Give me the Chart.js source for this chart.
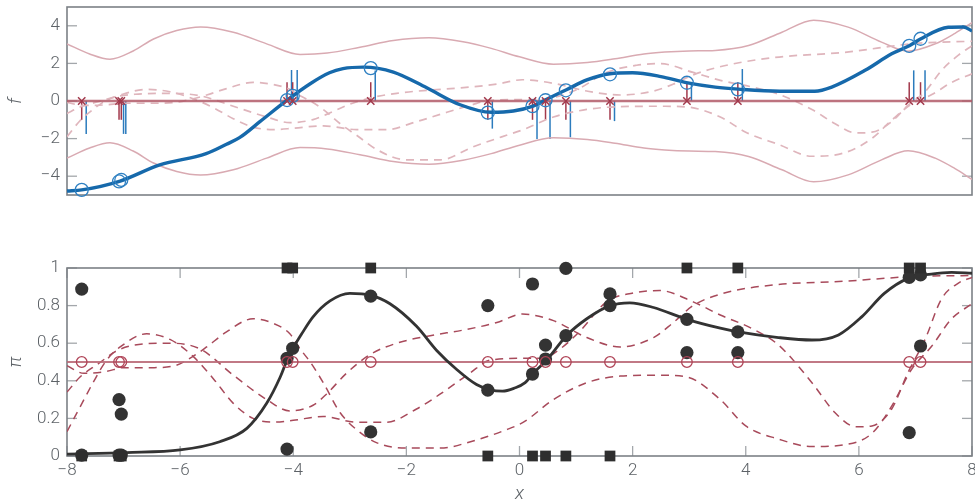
<!DOCTYPE html>
<html><head><meta charset="utf-8">
<script src="https://cdn.jsdelivr.net/npm/chart.js@4.4.1/dist/chart.umd.min.js"></script>
<style>
html,body{margin:0;padding:0;background:#fff;}
#wrap{position:relative;width:975px;height:503px;overflow:hidden;}
#c1{position:absolute;left:0;top:0;width:975px;height:215px;}
#c2{position:absolute;left:0;top:245px;width:975px;height:258px;}
</style></head><body>
<div id="wrap">
<canvas id="c1" width="975" height="215"></canvas>
<canvas id="c2" width="975" height="258"></canvas>
</div>
<script>
// ---------- axes ----------
const X_RANGE = [-8, 8];
const xTicks = [-8, -6, -4, -2, 0, 2, 4, 6, 8];
const F_RANGE = [-5, 5];
const fTicks = [-4, -2, 0, 2, 4];
const PI_RANGE = [0, 1];
const piTicks = [0, 0.2, 0.4, 0.6, 0.8, 1];
const priorF = 0;
const priorPi = 0.5;

// ---------- observations ----------
const obsX      = [-7.74, -7.08, -7.04, -4.11, -4.01, -2.63, -0.56, 0.23, 0.46, 0.82, 1.6, 2.96, 3.86, 6.89, 7.09];
const obsLabel  = [0, 0, 0, 1, 1, 1, 0, 0, 0, 0, 0, 1, 1, 1, 1];
const fAtObs    = [-4.73, -4.28, -4.2, 0.05, 0.27, 1.75, -0.62, -0.27, 0.04, 0.57, 1.42, 0.97, 0.62, 2.93, 3.31];
const redStem   = [-1, -1, -1, 1, 1, 1, -1, -1, -1, -1, -1, 1, 1, 1, 1];
const blueStem  = [-1.75, -1.75, -1.75, 1.65, 1.65, 1.62, -1.47, -2.02, -2.02, -1.93, -1.07, 0.99, 1.7, 1.63, 1.63];
const piAtObs   = [0.005, 0.005, 0.005, 0.52, 0.573, 0.85, 0.35, 0.436, 0.516, 0.64, 0.80, 0.727, 0.66, 0.95, 0.963];
const piOther   = [0.888, 0.30, 0.223, 0.037, null, 0.128, 0.80, 0.915, 0.59, 0.998, 0.862, 0.55, 0.55, 0.124, 0.585];

// ---------- latent mean f ----------
const meanX = [-8, -7.74, -7.06, -6.36, -5.54, -5.18, -4.95, -4.59, -4.12, -3.7, -3.36, -3.12, -2.76, -2.23, -1.64, -1.05, -0.5, -0.11, 0.24, 0.48, 0.83, 1.19, 1.6, 2.0, 2.5, 2.95, 3.46, 3.87, 4.6, 5.22, 5.52, 6.11, 6.58, 6.9, 7.08, 7.58, 7.85, 8];
const meanF = [-4.79, -4.73, -4.26, -3.4, -2.8, -2.3, -1.95, -1.1, 0.02, 0.92, 1.5, 1.72, 1.8, 1.54, 0.7, -0.2, -0.6, -0.53, -0.27, 0.09, 0.6, 1.12, 1.45, 1.5, 1.3, 0.98, 0.74, 0.63, 0.52, 0.52, 0.74, 1.63, 2.51, 2.95, 3.28, 3.92, 3.94, 3.72];

// ---------- prior band ----------
const boundX     = [-8, -7.6, -7.24, -6.83, -6.47, -6.06, -5.64, -5.06, -4.47, -3.88, -3.4, -2.82, -2.23, -1.6, -1.0, -0.5, 0.0, 0.6, 1.2, 1.69, 2.2, 2.57, 3.0, 3.46, 4.05, 4.64, 5.2, 5.81, 6.4, 6.87, 7.35, 7.7, 8];
const boundUpper = [3.04, 2.5, 2.22, 2.66, 3.3, 3.75, 3.94, 3.66, 3.04, 2.48, 2.55, 2.86, 3.22, 3.36, 3.15, 2.8, 2.35, 1.96, 2.05, 2.25, 2.5, 2.6, 2.66, 2.69, 2.95, 3.66, 4.3, 3.93, 3.13, 2.65, 3.04, 3.6, 4.17];
const boundLower = [-3.04, -2.5, -2.22, -2.66, -3.3, -3.75, -3.94, -3.66, -3.04, -2.48, -2.55, -2.86, -3.22, -3.36, -3.15, -2.8, -2.35, -1.96, -2.05, -2.25, -2.5, -2.6, -2.66, -2.69, -2.95, -3.66, -4.3, -3.93, -3.13, -2.65, -3.04, -3.6, -4.17];

// ---------- prior samples ----------
const sampleAX  = [-8, -7.77, -7.54, -7.3, -7.06, -6.59, -6.18, -5.77, -5.41, -5.06, -4.71, -4.35, -4.0, -3.47, -2.88, -2.35, -1.82, -1.35, -0.88, -0.52, 0.07, 0.4, 0.72, 1.07, 1.54, 2.07, 2.48, 3.07, 3.55, 4.13, 4.58, 5.17, 5.58, 5.95, 6.23, 6.58, 6.87, 7.17, 7.46, 7.76, 8];
const sampleAF  = [-1.90, -1.05, -0.45, 0.04, 0.32, 0.62, 0.49, 0.12, -0.36, -0.94, -1.39, -1.52, -1.45, -1.32, -1.52, -1.52, -1.10, -0.66, -0.24, 0.04, 0.08, 0.08, 0.28, 0.69, 1.52, 1.90, 1.99, 1.52, 1.10, 0.73, 0.36, -0.45, -1.21, -1.70, -1.66, -1.10, -0.22, 0.49, 1.62, 2.44, 2.94];
const sampleAPi = [0.13, 0.26, 0.39, 0.51, 0.58, 0.65, 0.62, 0.53, 0.41, 0.28, 0.2, 0.18, 0.19, 0.21, 0.18, 0.18, 0.25, 0.34, 0.44, 0.51, 0.52, 0.52, 0.57, 0.665, 0.82, 0.87, 0.88, 0.82, 0.75, 0.675, 0.59, 0.39, 0.23, 0.155, 0.16, 0.25, 0.445, 0.62, 0.835, 0.92, 0.95];

const sampleBX  = [-8, -7.77, -7.45, -7.12, -6.8, -6.2, -5.65, -5.06, -4.47, -4.06, -3.65, -3.41, -3.06, -2.64, -2.17, -1.58, -0.99, -0.4, 0.05, 0.6, 1.19, 1.78, 2.37, 2.72, 3.07, 3.6, 4.49, 5.75, 7.0, 8];
const sampleBF  = [-0.66, -0.32, -0.04, 0.24, 0.36, 0.41, 0.28, -0.28, -0.85, -1.15, -0.99, -0.71, -0.24, 0.16, 0.41, 0.58, 0.71, 0.90, 1.13, 0.94, 0.53, 0.32, 0.53, 0.90, 1.39, 1.86, 2.31, 2.59, 3.06, 3.18];
const sampleBPi = [0.34, 0.42, 0.49, 0.56, 0.59, 0.6, 0.57, 0.43, 0.30, 0.24, 0.27, 0.33, 0.44, 0.54, 0.60, 0.64, 0.67, 0.71, 0.755, 0.72, 0.63, 0.58, 0.63, 0.71, 0.80, 0.865, 0.91, 0.93, 0.955, 0.96];

const sampleCX  = [-8, -7.7, -7.3, -7.0, -6.5, -6.1, -5.77, -5.53, -5.18, -4.71, -4.35, -4.06, -3.88, -3.7, -3.47, -3.17, -2.88, -2.52, -2.0, -1.4, -0.82, -0.23, 0.07, 0.6, 1.19, 1.78, 2.48, 2.96, 3.55, 4.0, 4.58, 5.17, 5.75, 6.23, 6.58, 6.93, 7.29, 7.64, 8];
const sampleCF  = [-0.08, -0.24, -0.20, -0.12, -0.12, -0.08, 0.12, 0.32, 0.66, 0.99, 0.87, 0.62, 0.28, 0.0, -0.45, -1.21, -1.82, -2.59, -3.13, -3.13, -2.44, -1.82, -1.52, -0.85, -0.45, -0.30, -0.28, -0.32, -0.85, -1.66, -2.31, -2.94, -2.75, -1.99, -1.02, -0.16, 0.34, 0.99, 1.45];
const sampleCPi = [0.48, 0.44, 0.45, 0.47, 0.47, 0.48, 0.53, 0.58, 0.66, 0.73, 0.705, 0.65, 0.57, 0.5, 0.39, 0.23, 0.14, 0.07, 0.042, 0.042, 0.08, 0.14, 0.18, 0.30, 0.39, 0.425, 0.43, 0.42, 0.30, 0.16, 0.09, 0.05, 0.06, 0.12, 0.265, 0.46, 0.585, 0.73, 0.81];

// ---------- predictive pi ----------
const piMeanX = [-8, -6.95, -6.0, -5.3, -4.82, -4.47, -4.23, -4.11, -4.0, -3.85, -3.65, -3.35, -3.0, -2.64, -2.29, -1.82, -1.46, -1.11, -0.76, -0.52, -0.3, -0.1, 0.1, 0.24, 0.48, 0.83, 1.19, 1.6, 1.95, 2.37, 2.96, 3.55, 3.87, 4.58, 5.17, 5.64, 6.05, 6.45, 6.87, 7.28, 7.64, 8];
const piMean  = [0.01, 0.018, 0.032, 0.076, 0.147, 0.28, 0.42, 0.51, 0.575, 0.65, 0.74, 0.825, 0.865, 0.856, 0.81, 0.69, 0.56, 0.46, 0.38, 0.352, 0.345, 0.36, 0.39, 0.44, 0.51, 0.64, 0.73, 0.80, 0.815, 0.79, 0.727, 0.68, 0.66, 0.63, 0.617, 0.644, 0.74, 0.865, 0.945, 0.968, 0.977, 0.972];

// ---------- helpers ----------
const pts = (xs, ys) => xs.map((x, i) => ({x: x, y: ys[i]})).filter(p => p.y !== null && p.y !== undefined);
const constLine = (v) => X_RANGE.map(x => ({x: x, y: v}));
const fmt = v => (v < 0 ? '\u2212' + Math.abs(v) : String(v));
const FONT = 'Roboto, "Open Sans", "DejaVu Sans", sans-serif';
const tickFont = {family: FONT, size: 17, weight: '300'};
const titleFont = {family: FONT, size: 19, style: 'italic', weight: '300', lineHeight: 0.9};
const TXT = '#5d6267';

const frameTicks = {
  id: 'frameTicks',
  beforeDatasetsDraw(chart, args, o) {
    const {ctx, chartArea: a, scales} = chart;
    ctx.save();
    const seg = (x1, y1, x2, y2) => { ctx.beginPath(); ctx.moveTo(x1, y1); ctx.lineTo(x2, y2); ctx.stroke(); };
    ctx.strokeStyle = '#a3a7ab'; ctx.lineWidth = 1.3;
    const L = 10;
    (o.yTicks || []).forEach(v => {
      const y = scales.y.getPixelForValue(v);
      seg(a.left, y, a.left + L, y); seg(a.right - L, y, a.right, y);
    });
    (o.xTicks || []).forEach(v => {
      const x = scales.x.getPixelForValue(v);
      seg(x, a.top, x, a.top + L); seg(x, a.bottom - L, x, a.bottom);
    });
    ctx.strokeStyle = '#7c8186'; ctx.lineWidth = 1.6;
    ctx.strokeRect(a.left, a.top, a.right - a.left, a.bottom - a.top);
    if (o.stems) {
      const s = o.stems;
      ctx.lineWidth = 1.5;
      s.x.forEach((xv, i) => {
        const px = scales.x.getPixelForValue(xv);
        const y0 = scales.y.getPixelForValue(s.base);
        ctx.strokeStyle = '#2b7bbd';
        seg(px + s.offset, y0, px + s.offset, scales.y.getPixelForValue(s.blue[i]));
        ctx.strokeStyle = '#a2394c';
        seg(px, y0, px, scales.y.getPixelForValue(s.red[i]));
      });
    }
    ctx.restore();
  }
};
Chart.register(frameTicks);

const lineDS = (data, color, width, dash) => ({
  data: data, showLine: true, borderColor: color, backgroundColor: color, borderWidth: width,
  borderDash: dash || [], pointRadius: 0, pointHoverRadius: 0, cubicInterpolationMode: 'monotone', fill: false
});

const yAxis = (range, ticks, title, titlePad) => ({
  type: 'linear', min: range[0], max: range[1],
  afterBuildTicks: s => { s.ticks = ticks.map(v => ({value: v})); },
  afterFit: s => { s.width = 67; s.paddingTop = 0; s.paddingBottom = 0; },
  grid: {display: false, drawTicks: false}, border: {display: false},
  ticks: {padding: 7, font: tickFont, color: TXT, callback: v => fmt(v)},
  title: {display: true, text: title, font: titleFont, color: TXT, padding: {top: titlePad, bottom: 0}}
});

// ---------- top chart: latent f ----------
new Chart(document.getElementById('c1'), {
  type: 'scatter',
  data: {datasets: [
    {data: pts(obsX, obsX.map(() => priorF)), pointStyle: 'crossRot', pointRadius: 5.2, pointBorderWidth: 1.5,
     borderColor: '#a2394c', backgroundColor: 'rgba(0,0,0,0)', clip: false},
    {data: pts(obsX, fAtObs), pointStyle: 'circle', pointRadius: 6.5, pointBorderWidth: 1.3,
     borderColor: '#2f80c2', backgroundColor: 'rgba(0,0,0,0)', clip: false},
    lineDS(pts(meanX, meanF), '#1669ab', 3.4),
    lineDS(constLine(priorF), 'rgba(178,90,104,0.85)', 2.3),
    lineDS(pts(sampleAX, sampleAF), '#dfb5bc', 1.7, [8, 6]),
    lineDS(pts(sampleBX, sampleBF), '#dfb5bc', 1.7, [8, 6]),
    lineDS(pts(sampleCX, sampleCF), '#dfb5bc', 1.7, [8, 6]),
    lineDS(pts(boundX, boundUpper), '#d9aab2', 1.5),
    lineDS(pts(boundX, boundLower), '#d9aab2', 1.5)
  ]},
  options: {
    responsive: false, animation: false, events: [],
    layout: {autoPadding: false, padding: {left: 0, right: 3, top: 7, bottom: 20}},
    plugins: {legend: {display: false}, tooltip: {enabled: false},
      frameTicks: {yTicks: fTicks, stems: {x: obsX, red: redStem, blue: blueStem, base: priorF, offset: 4.5}}},
    scales: {
      x: {type: 'linear', min: X_RANGE[0], max: X_RANGE[1], display: false},
      y: yAxis(F_RANGE, fTicks, 'f', 8)
    }
  }
});

// ---------- bottom chart: class probability ----------
new Chart(document.getElementById('c2'), {
  type: 'scatter',
  data: {datasets: [
    {data: pts(obsX, obsX.map(() => priorPi)), pointStyle: 'circle', pointRadius: 5.3, pointBorderWidth: 1.3,
     borderColor: '#b04457', backgroundColor: 'rgba(0,0,0,0)', clip: false},
    {data: pts(obsX, obsLabel), pointStyle: 'rect', pointRadius: 7.6, pointBorderWidth: 0,
     borderColor: '#2e2e2e', backgroundColor: '#2e2e2e', clip: false},
    {data: pts(obsX, piAtObs), pointStyle: 'circle', pointRadius: 6.6, pointBorderWidth: 0,
     borderColor: '#333', backgroundColor: '#333', clip: false},
    {data: pts(obsX, piOther), pointStyle: 'circle', pointRadius: 6.6, pointBorderWidth: 0,
     borderColor: '#333', backgroundColor: '#333', clip: false},
    lineDS(pts(piMeanX, piMean), '#333', 2.8),
    lineDS(constLine(priorPi), 'rgba(186,106,120,0.9)', 2.2),
    lineDS(pts(sampleAX, sampleAPi), '#a84a5b', 1.5, [8, 6]),
    lineDS(pts(sampleBX, sampleBPi), '#a84a5b', 1.5, [8, 6]),
    lineDS(pts(sampleCX, sampleCPi), '#a84a5b', 1.5, [8, 6])
  ]},
  options: {
    responsive: false, animation: false, events: [],
    layout: {autoPadding: false, padding: {left: 0, right: 3, top: 23, bottom: 0}},
    plugins: {legend: {display: false}, tooltip: {enabled: false},
      frameTicks: {yTicks: piTicks, xTicks: xTicks}},
    scales: {
      x: {type: 'linear', min: X_RANGE[0], max: X_RANGE[1],
        afterBuildTicks: s => { s.ticks = xTicks.map(v => ({value: v})); },
        afterFit: s => { s.height = 47; s.paddingLeft = 0; s.paddingRight = 0; },
        grid: {display: false, drawTicks: false}, border: {display: false},
        ticks: {padding: 5, font: tickFont, color: TXT, autoSkip: false, maxRotation: 0, callback: v => fmt(v)},
        title: {display: true, text: 'x', font: titleFont, color: TXT, padding: {top: 0, bottom: 0}}},
      y: yAxis(PI_RANGE, piTicks, '\u03c0', 8)
    }
  }
});
</script>
</body></html>
